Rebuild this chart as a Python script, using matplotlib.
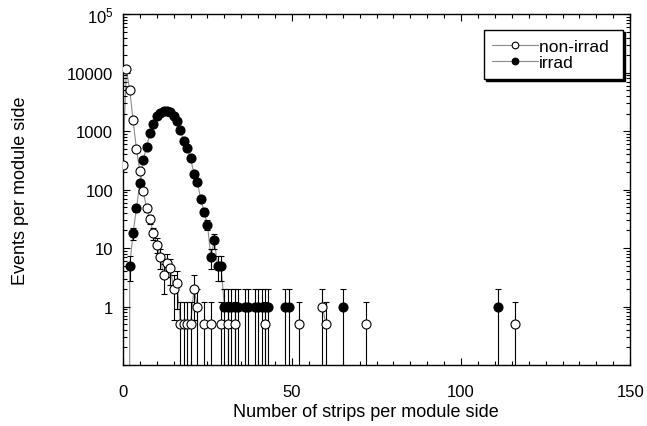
import numpy as np
import matplotlib
matplotlib.use('Agg')
import matplotlib.pyplot as plt
from matplotlib.ticker import FixedLocator, FixedFormatter, MultipleLocator, NullFormatter

plt.rcParams['font.family'] = ['Liberation Sans', 'DejaVu Sans']

# non-irradiated module sides
x_non = [0, 1, 2, 3, 4, 5, 6, 7, 8, 9, 10, 11, 12, 13, 14, 15, 16, 17, 18, 19, 20,
         21, 22, 24, 26, 29, 31, 33, 42, 52, 59, 60, 72, 116]
y_non = [260, 11500, 5100, 1550, 490, 210, 95, 48, 31, 18, 11.5, 7, 3.5, 5.5, 4.5, 2, 2.5,
         0.5, 0.5, 0.5, 0.5, 2, 1, 0.5, 0.5, 0.5, 0.5, 0.5, 0.5, 0.5, 1, 0.5, 0.5, 0.5]

# irradiated module sides
x_irr = [1, 2, 3, 4, 5, 6, 7, 8, 9, 10, 11, 12, 13, 14, 15, 16, 17, 18, 19, 20,
         21, 22, 23, 24, 25, 26, 27, 28, 29, 30, 31, 32, 33, 34, 36, 37, 39, 40,
         41, 42, 43, 48, 49, 65, 111]
y_irr = [0, 5, 18, 48, 130, 325, 540, 930, 1350, 1790, 2040, 2210, 2230, 2120, 1840,
         1500, 1050, 670, 520, 342, 189, 136, 69, 42, 25, 7, 13.5, 5, 5,
         1, 1, 1, 1, 1, 1, 1, 1, 1, 1, 1, 1, 1, 1, 1, 1]


def broken(x, y):
    # connect only neighbouring bins
    xs, ys = [], []
    for i in range(len(x)):
        if i > 0 and x[i] - x[i - 1] > 1:
            xs.append(np.nan)
            ys.append(np.nan)
        xs.append(x[i])
        ys.append(y[i])
    return np.array(xs, float), np.array(ys, float)


fig = plt.figure(figsize=(6.47, 4.27), dpi=100)
ax = fig.add_axes([0.19, 0.143, 0.784, 0.821])
ax.set_yscale('log', nonpositive='clip')

for x, y, face, z in [(x_irr, y_irr, 'black', 3), (x_non, y_non, 'white', 5)]:
    x = np.array(x, float)
    y = np.array(y, float)
    xl, yl = broken(x, y)
    ax.plot(xl, yl, color='#8c8c8c', lw=0.8, zorder=1)
    m = y > 0
    ax.errorbar(x[m], y[m], yerr=np.sqrt(y[m]), fmt='none', ecolor='black',
                elinewidth=0.8, capsize=2, capthick=0.8, zorder=2)
    ax.plot(x[m], y[m], 'o', ms=6.5, mfc=face, mec='black', mew=0.8, ls='none', zorder=z)

ax.set_xlim(0, 150)
ax.set_ylim(0.1, 1e5)

ax.xaxis.set_major_locator(MultipleLocator(50))
ax.xaxis.set_minor_locator(MultipleLocator(5))

ymaj = [0.1, 1, 10, 100, 1000, 10000, 1e5]
ylab = ['', '1', '10', '100', '1000', '10000', r'$\mathregular{10^5}$']
ax.yaxis.set_major_locator(FixedLocator(ymaj))
ax.yaxis.set_major_formatter(FixedFormatter(ylab))
yminor = [m * 10.0 ** e for e in range(-1, 5) for m in range(2, 10)]
ax.yaxis.set_minor_locator(FixedLocator(yminor))
ax.yaxis.set_minor_formatter(NullFormatter())

ax.tick_params(which='both', direction='in', top=True, right=True, labelsize=12, width=0.8)
ax.tick_params(which='major', length=5)
ax.tick_params(which='minor', length=3)
ax.tick_params(axis='x', pad=14)
ax.tick_params(axis='y', pad=7)
for s in ax.spines.values():
    s.set_linewidth(1.0)

ax.set_xlabel('Number of strips per module side', fontsize=13, labelpad=2.5)
ax.xaxis.label.set_x(0.478)
ax.set_ylabel('Events per module side', fontsize=13, labelpad=27)

h1, = ax.plot([], [], '-o', color='#8c8c8c', lw=0.8, ms=4.8, mfc='white', mec='black', mew=0.8)
h2, = ax.plot([], [], '-o', color='#8c8c8c', lw=0.8, ms=4.8, mfc='black', mec='black', mew=0.8)
leg = ax.legend([h1, h2], ['non-irrad ', 'irrad'], loc='upper right',
                bbox_to_anchor=(0.985, 0.955), borderaxespad=0, fontsize=12.5,
                handlelength=2.6, handletextpad=0.1, borderpad=0.5, labelspacing=0.05,
                fancybox=False, framealpha=1, edgecolor='black',
                shadow={'color': 'black', 'alpha': 1, 'ox': 1.5, 'oy': -1.5})
leg.get_frame().set_linewidth(1.0)

fig.savefig('out.png', dpi=100)
